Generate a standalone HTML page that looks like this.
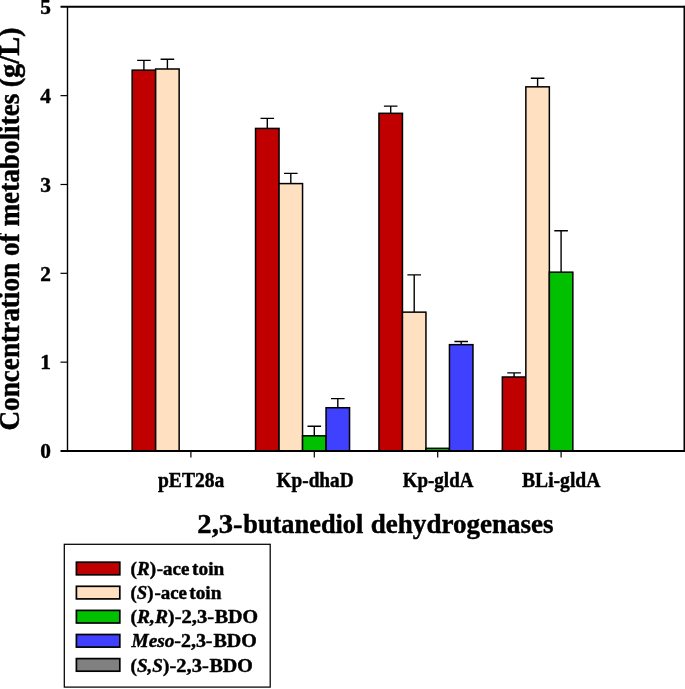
<!DOCTYPE html><html><head><meta charset="utf-8"><title>2,3-butanediol dehydrogenases</title>
<style>html,body{margin:0;padding:0;background:#fff}svg{display:block;will-change:transform}text{font-family:"Liberation Serif",serif;font-weight:bold;fill:#000;stroke:#000;stroke-width:.45px;stroke-linejoin:round}</style></head><body>
<svg width="685" height="689" viewBox="0 0 685 689">
<rect width="685" height="689" fill="#fff"/>
<path d="M143.90 70.14V60.37M137.10 60.37H150.70" stroke="#000" stroke-width="1.4" fill="none"/>
<rect x="132.15" y="70.14" width="23.5" height="380.86" fill="#C00000" stroke="#000" stroke-width="1.5"/>
<path d="M167.40 68.99V59.30M160.60 59.30H174.20" stroke="#000" stroke-width="1.4" fill="none"/>
<rect x="155.65" y="68.99" width="23.5" height="382.01" fill="#FFE0C0" stroke="#000" stroke-width="1.5"/>
<path d="M267.30 128.42V118.38M260.50 118.38H274.10" stroke="#000" stroke-width="1.4" fill="none"/>
<rect x="255.55" y="128.42" width="23.5" height="322.58" fill="#C00000" stroke="#000" stroke-width="1.5"/>
<path d="M290.80 183.59V173.38M284.00 173.38H297.60" stroke="#000" stroke-width="1.4" fill="none"/>
<rect x="279.05" y="183.59" width="23.5" height="267.41" fill="#FFE0C0" stroke="#000" stroke-width="1.5"/>
<path d="M314.30 435.81V426.30M307.50 426.30H321.10" stroke="#000" stroke-width="1.4" fill="none"/>
<rect x="302.55" y="435.81" width="23.5" height="15.19" fill="#00C000" stroke="#000" stroke-width="1.5"/>
<path d="M337.80 407.73V398.58M331.00 398.58H344.60" stroke="#000" stroke-width="1.4" fill="none"/>
<rect x="326.05" y="407.73" width="23.5" height="43.27" fill="#4040FF" stroke="#000" stroke-width="1.5"/>
<path d="M390.70 113.32V106.12M383.90 106.12H397.50" stroke="#000" stroke-width="1.4" fill="none"/>
<rect x="378.95" y="113.32" width="23.5" height="337.68" fill="#C00000" stroke="#000" stroke-width="1.5"/>
<path d="M414.20 312.14V274.92M407.40 274.92H421.00" stroke="#000" stroke-width="1.4" fill="none"/>
<rect x="402.45" y="312.14" width="23.5" height="138.86" fill="#FFE0C0" stroke="#000" stroke-width="1.5"/>
<rect x="425.95" y="448.33" width="23.5" height="2.67" fill="#00C000" stroke="#000" stroke-width="1.5"/>
<path d="M461.20 344.66V341.46M454.40 341.46H468.00" stroke="#000" stroke-width="1.4" fill="none"/>
<rect x="449.45" y="344.66" width="23.5" height="106.34" fill="#4040FF" stroke="#000" stroke-width="1.5"/>
<path d="M514.10 377.00V372.91M507.30 372.91H520.90" stroke="#000" stroke-width="1.4" fill="none"/>
<rect x="502.35" y="377.00" width="23.5" height="74.00" fill="#C00000" stroke="#000" stroke-width="1.5"/>
<path d="M537.60 86.84V78.23M530.80 78.23H544.40" stroke="#000" stroke-width="1.4" fill="none"/>
<rect x="525.85" y="86.84" width="23.5" height="364.16" fill="#FFE0C0" stroke="#000" stroke-width="1.5"/>
<path d="M561.10 272.17V230.68M554.30 230.68H567.90" stroke="#000" stroke-width="1.4" fill="none"/>
<rect x="549.35" y="272.17" width="23.5" height="178.83" fill="#00C000" stroke="#000" stroke-width="1.5"/>
<path d="M60.5 6.8H684.5" stroke="#000" stroke-width="1.9" fill="none"/>
<path d="M60.5 451.0H684.5" stroke="#000" stroke-width="1.9" fill="none"/>
<path d="M67.5 6.8V451.0" stroke="#000" stroke-width="1.4" fill="none"/>
<path d="M684.5 5.8V452.0" stroke="#000" stroke-width="2" fill="none"/>
<text x="51" y="458.30" font-size="21.33" text-anchor="end">0</text>
<path d="M60.5 362.16H67.5" stroke="#000" stroke-width="1.2" fill="none"/>
<text x="51" y="369.46" font-size="21.33" text-anchor="end">1</text>
<path d="M60.5 273.32H67.5" stroke="#000" stroke-width="1.2" fill="none"/>
<text x="51" y="280.62" font-size="21.33" text-anchor="end">2</text>
<path d="M60.5 184.48H67.5" stroke="#000" stroke-width="1.2" fill="none"/>
<text x="51" y="191.78" font-size="21.33" text-anchor="end">3</text>
<path d="M60.5 95.64H67.5" stroke="#000" stroke-width="1.2" fill="none"/>
<text x="51" y="102.94" font-size="21.33" text-anchor="end">4</text>
<text x="51" y="14.10" font-size="21.33" text-anchor="end">5</text>
<path d="M190.9 451.0V457.5" stroke="#000" stroke-width="1.2" fill="none"/>
<text transform="translate(158.00 487.40) scale(0.9170 1)" font-size="21.33">pET28a</text>
<path d="M314.3 451.0V457.5" stroke="#000" stroke-width="1.2" fill="none"/>
<text transform="translate(276.53 487.40) scale(0.9035 1)" font-size="21.33">Kp-dhaD</text>
<path d="M437.7 451.0V457.5" stroke="#000" stroke-width="1.2" fill="none"/>
<text transform="translate(402.73 487.40) scale(0.8901 1)" font-size="21.33">Kp-gldA</text>
<path d="M561.1 451.0V457.5" stroke="#000" stroke-width="1.2" fill="none"/>
<text transform="translate(522.02 487.40) scale(0.9191 1)" font-size="21.33">BLi-gldA</text>
<text transform="translate(197.32 533.30) scale(1.0227 1)" font-size="28.0">2,3-</text>
<text transform="translate(243.26 533.30) scale(0.9416 1)" font-size="28.0">butanediol</text>
<text transform="translate(370.79 533.30) scale(0.9665 1)" font-size="28.0">dehydrogenases</text>
<text transform="translate(19.20 430.59) rotate(-90) scale(0.9585 1)" font-size="28.4">Concentration of metabolites</text>
<text transform="translate(19.20 87.32) rotate(-90) scale(0.9978 1)" font-size="28.4">(g/L)</text>
<rect x="64.3" y="544.3" width="205.9" height="142.8" fill="#fff" stroke="#000" stroke-width="1.25"/>
<rect x="76.4" y="562.20" width="43.4" height="12.6" fill="#C00000" stroke="#000" stroke-width="1.7"/>
<text transform="translate(130.60 574.90) scale(0.9957 1)" font-size="19.2">(<tspan font-style="italic">R</tspan>)</text>
<text transform="translate(156.69 574.90) scale(0.9881 1)" font-size="19.2">-ace</text>
<text transform="translate(192.12 574.90) scale(1.0046 1)" font-size="19.2">toin</text>
<rect x="76.4" y="586.30" width="43.4" height="12.6" fill="#FFE0C0" stroke="#000" stroke-width="1.7"/>
<text transform="translate(130.61 599.08) scale(0.9769 1)" font-size="19.2">(<tspan font-style="italic">S</tspan>)</text>
<text transform="translate(154.39 599.08) scale(0.9881 1)" font-size="19.2">-ace</text>
<text transform="translate(189.22 599.08) scale(1.0046 1)" font-size="19.2">toin</text>
<rect x="76.4" y="610.40" width="43.4" height="12.6" fill="#00C000" stroke="#000" stroke-width="1.7"/>
<text transform="translate(130.58 623.26) scale(1.0174 1)" font-size="19.2">(<tspan font-style="italic">R,R</tspan>)</text>
<text transform="translate(174.63 623.26) scale(1.0747 1)" font-size="19.2">-2,3-</text>
<text transform="translate(214.71 623.26) scale(1.0425 1)" font-size="19.2">BDO</text>
<rect x="76.4" y="634.50" width="43.4" height="12.6" fill="#4040FF" stroke="#000" stroke-width="1.7"/>
<text transform="translate(131.57 647.44) scale(1.0059 1)" font-size="19.2"><tspan font-style="italic">Meso</tspan></text>
<text transform="translate(174.26 647.44) scale(1.0406 1)" font-size="19.2">-2,3-</text>
<text transform="translate(213.51 647.44) scale(1.0425 1)" font-size="19.2">BDO</text>
<rect x="76.4" y="658.60" width="43.4" height="12.6" fill="#808080" stroke="#000" stroke-width="1.7"/>
<text transform="translate(130.60 671.62) scale(0.9953 1)" font-size="19.2">(<tspan font-style="italic">S,S</tspan>)</text>
<text transform="translate(169.54 671.62) scale(1.0662 1)" font-size="19.2">-2,3-</text>
<text transform="translate(209.41 671.62) scale(1.0425 1)" font-size="19.2">BDO</text>
</svg></body></html>
